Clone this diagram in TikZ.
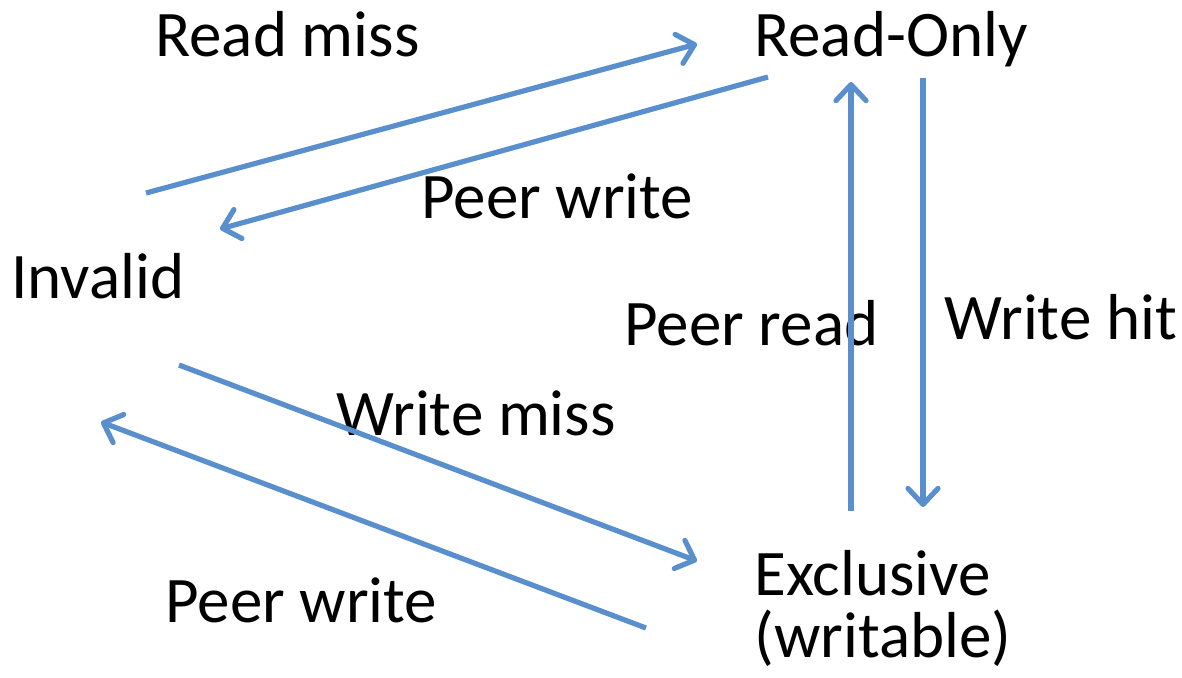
\documentclass[tikz,border=0pt]{standalone}
\usepackage{fontspec}
\setmainfont{Carlito}
\usepackage{xcolor}
\usetikzlibrary{arrows.meta}
\definecolor{arrowblue}{RGB}{88,143,204}
\tikzset{
  lbl/.style={anchor=base west,inner sep=0pt,font=\fontsize{32.5}{31}\selectfont},
  trans/.style={draw=arrowblue,line width=2.6pt,-{Straight Barb[length=8pt,width=15pt,line join=round,line cap=round]}}
}

\begin{document}
\begin{tikzpicture}[x=0.5pt,y=-0.5pt]
\useasboundingbox (0,0) rectangle (1182,677);

\node[lbl] (readmiss) at (155,56) {Read miss};
\node[lbl] (readonly) at (754,56) {Read-Only};
\node[lbl] (peerwrite1) at (421,218) {Peer write};
\node[lbl] (invalid) at (11,298) {Invalid};
\node[lbl] (peerread) at (624,345) {Peer read};
\node[lbl] (writehit) at (944,339) {Write hit};
\node[lbl] (writemiss) at (336,435) {Write miss};
\node[lbl,align=left] (exclusive) at (754,657) {Exclusive\\(writable)};
\node[lbl] (peerwrite2) at (165,622) {Peer write};

\coordinate (rm0) at (146,193);
\coordinate (rm1) at (697,44);
\coordinate (pw0) at (768,77);
\coordinate (pw1) at (220,229);
\coordinate (wm0) at (179,365);
\coordinate (wm1) at (697,561);
\coordinate (pv0) at (646,628);
\coordinate (pv1) at (101,422);
\coordinate (pr0) at (851,511);
\coordinate (pr1) at (851,82);
\coordinate (wh0) at (923,78);
\coordinate (wh1) at (923,507);

\draw[trans] (rm0) -- (rm1);
\draw[trans] (pw0) -- (pw1);
\draw[trans] (wm0) -- (wm1);
\draw[trans] (pv0) -- (pv1);
\draw[trans] (pr0) -- (pr1);
\draw[trans] (wh0) -- (wh1);
\end{tikzpicture}
\end{document}
